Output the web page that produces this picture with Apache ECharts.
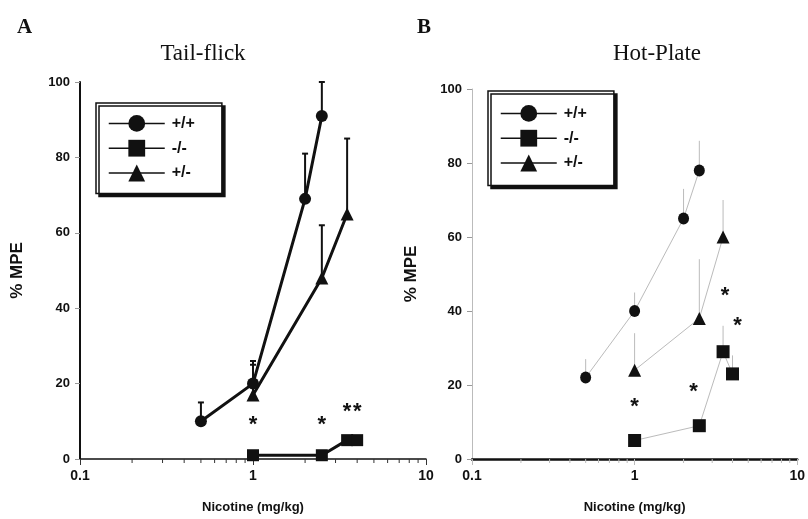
<!DOCTYPE html>
<html lang="en">
<head>
    <meta charset="UTF-8">
    <title>Tail-flick / Hot-Plate</title>
    <script src="https://cdn.jsdelivr.net/npm/echarts@6/dist/echarts.min.js"></script>
    <style>
        html, body { margin: 0; padding: 0; background: #fff; }
        #chart { width: 808px; height: 519px; }
    </style>
</head>
<body>
<div id="chart"></div>
<script>
// ---- data ----
var doseWT = [0.5, 1, 2, 2.5];
var doseKO = [1, 2.5, 3.5, 4];
var doseHet = [1, 2.5, 3.5];

// Panel A: Tail-flick
var tfWT = [10, 20, 69, 91];
var tfWTerr = [5, 6, 12, 9];
var tfKO = [1, 1, 5, 5];
var tfKOerr = [0, 0, 1, 1];
var tfHet = [17, 48, 65];
var tfHetErr = [8, 14, 20];
var tfStarX = [1, 2.5, 3.5, 4];
var tfStarY = [9, 9, 12.5, 12.5];

// Panel B: Hot-Plate
var hpWT = [22, 40, 65, 78];
var hpWTerr = [5, 5, 8, 8];
var hpKO = [5, 9, 29, 23];
var hpKOerr = [0, 0, 7, 5];
var hpHet = [24, 38, 60];
var hpHetErr = [10, 16, 10];
var hpStarX = [1, 2.3, 3.6, 4.3];
var hpStarY = [14, 18, 44, 36];

var minorTicks = [0.2, 0.3, 0.4, 0.5, 0.6, 0.7, 0.8, 0.9, 2, 3, 4, 5, 6, 7, 8, 9];
var groups = ['+/+', '-/-', '+/-'];

var chart = echarts.init(document.getElementById('chart'));

var sans = '"Liberation Sans", Arial, sans-serif';
var serif = '"Liberation Serif", "Times New Roman", serif';

function pairs(xs, ys) {
    return xs.map(function (x, i) { return [x, ys[i]]; });
}
function errData(xs, ys, es) {
    return xs.map(function (x, i) { return [x, ys[i], ys[i] + es[i]]; });
}

function lineSeries(name, idx, xs, ys, symbol, size, thick) {
    return {
        name: name, type: 'line', xAxisIndex: idx, yAxisIndex: idx,
        data: pairs(xs, ys), symbol: symbol, symbolSize: size,
        lineStyle: thick ? { color: '#111', width: 3 } : { color: '#bbb', width: 1 },
        itemStyle: { color: '#111' },
        z: 5
    };
}

function errSeries(idx, data, thick) {
    return {
        type: 'custom', xAxisIndex: idx, yAxisIndex: idx, data: data, z: 3, silent: true,
        renderItem: function (params, api) {
            var p0 = api.coord([api.value(0), api.value(1)]);
            var p1 = api.coord([api.value(0), api.value(2)]);
            var col = thick ? '#111' : '#bbb';
            var lw = thick ? 2 : 1;
            var kids = [{ type: 'line', shape: { x1: p0[0], y1: p0[1], x2: p1[0], y2: p1[1] }, style: { stroke: col, lineWidth: lw } }];
            if (thick) {
                kids.push({ type: 'line', shape: { x1: p1[0] - 3, y1: p1[1], x2: p1[0] + 3, y2: p1[1] }, style: { stroke: col, lineWidth: lw } });
            }
            return { type: 'group', children: kids };
        }
    };
}

function starSeries(idx, xs, ys) {
    return {
        type: 'custom', xAxisIndex: idx, yAxisIndex: idx, data: pairs(xs, ys), z: 6, silent: true,
        renderItem: function (params, api) {
            var p = api.coord([api.value(0), api.value(1)]);
            return { type: 'text', x: p[0], y: p[1], style: { text: '*', font: 'bold 22px ' + sans, fill: '#111', align: 'center', verticalAlign: 'middle' } };
        }
    };
}

function minorTickSeries(idx, col) {
    return {
        type: 'custom', xAxisIndex: idx, yAxisIndex: idx, silent: true, clip: false, z: 2,
        data: minorTicks.map(function (t) { return [t, 0]; }),
        renderItem: function (params, api) {
            var p = api.coord([api.value(0), 0]);
            return { type: 'line', shape: { x1: p[0], y1: p[1], x2: p[0], y2: p[1] + 4 }, style: { stroke: col, lineWidth: 1 } };
        }
    };
}

function xAxis(idx, lineCol, lineW, tickCol) {
    return {
        type: 'log', logBase: 10, min: 0.1, max: 10, gridIndex: idx,
        name: 'Nicotine (mg/kg)', nameLocation: 'middle', nameGap: 42,
        nameTextStyle: { fontFamily: sans, fontWeight: 'bold', fontSize: 13, color: '#111' },
        axisLine: { lineStyle: { color: lineCol, width: lineW } },
        axisTick: { show: true, length: 6, lineStyle: { color: tickCol } },
        minorTick: { show: false },
        splitLine: { show: false },
        axisLabel: {
            fontFamily: sans, fontWeight: 'bold', fontSize: 14, color: '#111', margin: 10,
            formatter: function (v) { return String(v); }
        }
    };
}

function yAxis(idx, lineCol, lineW, gap) {
    return {
        type: 'value', min: 0, max: 100, interval: 20, gridIndex: idx,
        name: '% MPE', nameLocation: 'middle', nameGap: gap,
        nameTextStyle: { fontFamily: sans, fontWeight: 'bold', fontSize: 17, color: '#111' },
        axisLine: { show: true, lineStyle: { color: lineCol, width: lineW } },
        axisTick: { show: true, length: 5, lineStyle: { color: '#999' } },
        splitLine: { show: false },
        axisLabel: { fontFamily: sans, fontWeight: 'bold', fontSize: 13, color: '#111', margin: 10 }
    };
}

function legendBox(left, top, padV) {
    return {
        data: groups, orient: 'vertical', left: left, top: top,
        padding: [padV, 27, padV, 12], itemGap: 8, itemWidth: 56, itemHeight: 21,
        backgroundColor: '#fff', borderColor: '#111', borderWidth: 1.5,
        shadowColor: '#111', shadowBlur: 0, shadowOffsetX: 3, shadowOffsetY: 3,
        lineStyle: { color: '#111', width: 1.5 },
        itemStyle: { color: '#111' },
        textStyle: { fontFamily: sans, fontWeight: 'bold', fontSize: 16, color: '#111', padding: [0, 0, 0, 2] },
        selectedMode: false
    };
}

chart.setOption({
    animation: false,
    backgroundColor: '#fff',
    title: [
        { text: 'A', left: 12, top: 12, textStyle: { fontFamily: serif, fontWeight: 'bold', fontSize: 21, color: '#111' } },
        { text: 'Tail-flick', left: 198, top: 37, textAlign: 'center', textStyle: { fontFamily: serif, fontWeight: 'normal', fontSize: 23, color: '#111' } },
        { text: 'B', left: 412, top: 12, textStyle: { fontFamily: serif, fontWeight: 'bold', fontSize: 21, color: '#111' } },
        { text: 'Hot-Plate', left: 652, top: 37, textAlign: 'center', textStyle: { fontFamily: serif, fontWeight: 'normal', fontSize: 23, color: '#111' } }
    ],
    legend: [legendBox(96, 103, 12), legendBox(488, 91, 14)],
    grid: [
        { left: 80, right: 382, top: 82, bottom: 58 },
        { left: 472, right: 9, top: 89, bottom: 59 }
    ],
    xAxis: [xAxis(0, '#111', 1.5, '#333'), xAxis(1, '#111', 2.5, '#bbb')],
    yAxis: [yAxis(0, '#111', 2, 54), yAxis(1, '#bbb', 1, 52)],
    series: [
        errSeries(0, errData(doseWT, tfWT, tfWTerr), true),
        errSeries(0, errData(doseKO, tfKO, tfKOerr), true),
        errSeries(0, errData(doseHet, tfHet, tfHetErr), true),
        lineSeries('+/+', 0, doseWT, tfWT, 'circle', 12, true),
        lineSeries('-/-', 0, doseKO, tfKO, 'rect', 12, true),
        lineSeries('+/-', 0, doseHet, tfHet, 'triangle', 13, true),
        starSeries(0, tfStarX, tfStarY),
        minorTickSeries(0, '#333'),

        errSeries(1, errData(doseWT, hpWT, hpWTerr), false),
        errSeries(1, errData(doseKO, hpKO, hpKOerr), false),
        errSeries(1, errData(doseHet, hpHet, hpHetErr), false),
        lineSeries('+/+', 1, doseWT, hpWT, 'circle', [11, 12], false),
        lineSeries('-/-', 1, doseKO, hpKO, 'rect', 13, false),
        lineSeries('+/-', 1, doseHet, hpHet, 'triangle', 13, false),
        starSeries(1, hpStarX, hpStarY),
        minorTickSeries(1, '#bbb')
    ]
});
</script>
</body>
</html>
